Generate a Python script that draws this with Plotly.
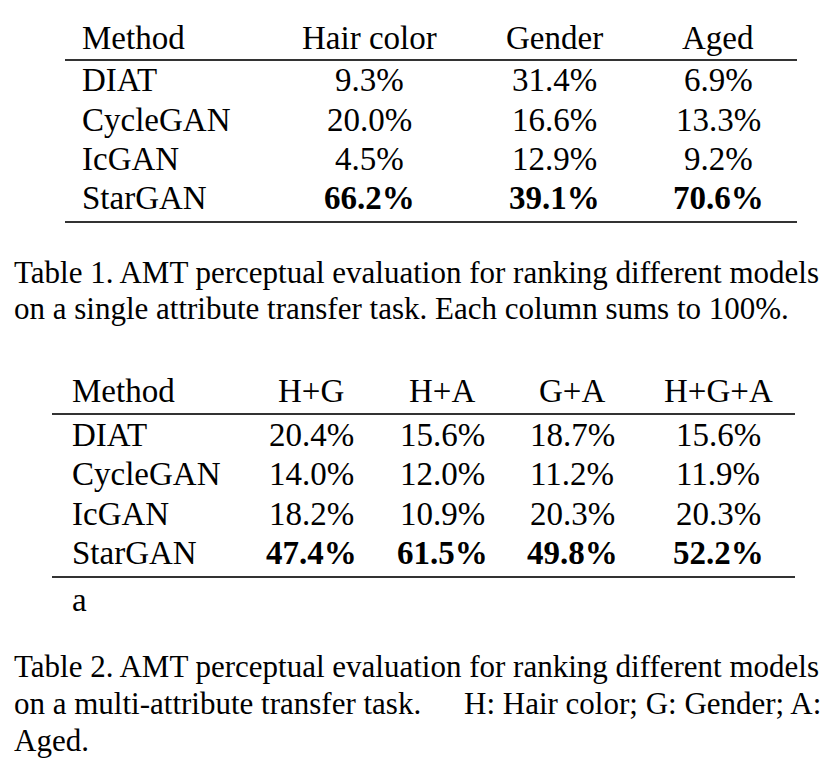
import plotly.graph_objects as go

# ---- data ----
methods = ["DIAT", "CycleGAN", "IcGAN", "StarGAN"]

t1_columns = ["Hair color", "Gender", "Aged"]
t1_hair = [9.3, 20.0, 4.5, 66.2]
t1_gender = [31.4, 16.6, 12.9, 39.1]
t1_aged = [6.9, 13.3, 9.2, 70.6]

t2_columns = ["H+G", "H+A", "G+A", "H+G+A"]
t2_hg = [20.4, 14.0, 18.2, 47.4]
t2_ha = [15.6, 12.0, 10.9, 61.5]
t2_ga = [18.7, 11.2, 20.3, 49.8]
t2_hga = [15.6, 11.9, 20.3, 52.2]

caption1 = ["Table 1. AMT perceptual evaluation for ranking different models",
            "on a single attribute transfer task. Each column sums to 100%."]
caption2_line1 = "Table 2. AMT perceptual evaluation for ranking different models"
caption2_line2_left = "on a multi-attribute transfer task."
caption2_line2_right = "H: Hair color; G: Gender; A:"
caption2_line3 = "Aged."
footnote2 = "a"

FONT = "Liberation Serif, Times New Roman, serif"
TS = 33   # table font size
CS = 31   # caption font size

fig = go.Figure()
ann = []
shapes = []

def add_text(x, y, text, size, xanchor="center"):
    ann.append(dict(x=x, y=y, xref="x", yref="y", text=text, showarrow=False,
                    xanchor=xanchor, yanchor="middle",
                    font=dict(family=FONT, size=size, color="black")))

def add_rule(x0, x1, y, w=2):
    shapes.append(dict(type="line", xref="x", yref="y", x0=x0, x1=x1, y0=y, y1=y,
                       line=dict(color="#333", width=w)))

def best_flags(cols):
    # bold the maximum of each column
    return [[v == max(c) for v in c] for c in cols]

# ---- Table 1 ----
t1_vals = [t1_hair, t1_gender, t1_aged]
t1_x = [369, 554, 718]
t1_rows_y = [80, 120, 159, 198]
add_text(80, 38, "Method", TS, "left")
for cx, name in zip(t1_x, t1_columns):
    add_text(cx, 38, name, TS)
flags = best_flags(t1_vals)
for i, m in enumerate(methods):
    add_text(80, t1_rows_y[i], m, TS, "left")
    for j, col in enumerate(t1_vals):
        s = f"{col[i]:.1f}%"
        if flags[j][i]:
            s = f"<b>{s}</b>"
        add_text(t1_x[j], t1_rows_y[i], s, TS)
add_rule(65, 797, 60)
add_rule(65, 797, 222)

for k, line in enumerate(caption1):
    add_text(12, 272 + k * 36, line, CS, "left")

# ---- Table 2 ----
t2_vals = [t2_hg, t2_ha, t2_ga, t2_hga]
t2_x = [311, 442, 572, 718]
t2_rows_y = [435, 474, 514, 553]
add_text(70, 391, "Method", TS, "left")
for cx, name in zip(t2_x, t2_columns):
    add_text(cx, 391, name, TS)
flags = best_flags(t2_vals)
for i, m in enumerate(methods):
    add_text(70, t2_rows_y[i], m, TS, "left")
    for j, col in enumerate(t2_vals):
        s = f"{col[i]:.1f}%"
        if flags[j][i]:
            s = f"<b>{s}</b>"
        add_text(t2_x[j], t2_rows_y[i], s, TS)
add_rule(52, 795, 414)
add_rule(52, 795, 577)
add_text(70, 600, footnote2, TS, "left")

# justified caption (line 2 split so it fills the full width)
add_text(12, 666, caption2_line1, CS, "left")
add_text(12, 703, caption2_line2_left, CS, "left")
add_text(823, 703, caption2_line2_right, CS, "right")
add_text(12, 740, caption2_line3, CS, "left")

# page body has an 8px margin: shift the coordinate window to compensate
OFF = 8
W, H = 834 - 2 * OFF, 766 - 2 * OFF
fig.update_layout(
    width=W, height=H,
    margin=dict(l=0, r=0, t=0, b=0),
    paper_bgcolor="white", plot_bgcolor="white",
    xaxis=dict(range=[OFF, OFF + W], visible=False, fixedrange=True),
    yaxis=dict(range=[OFF + H, OFF], visible=False, fixedrange=True),
    annotations=ann, shapes=shapes, showlegend=False,
)
fig.write_html("out.html")
